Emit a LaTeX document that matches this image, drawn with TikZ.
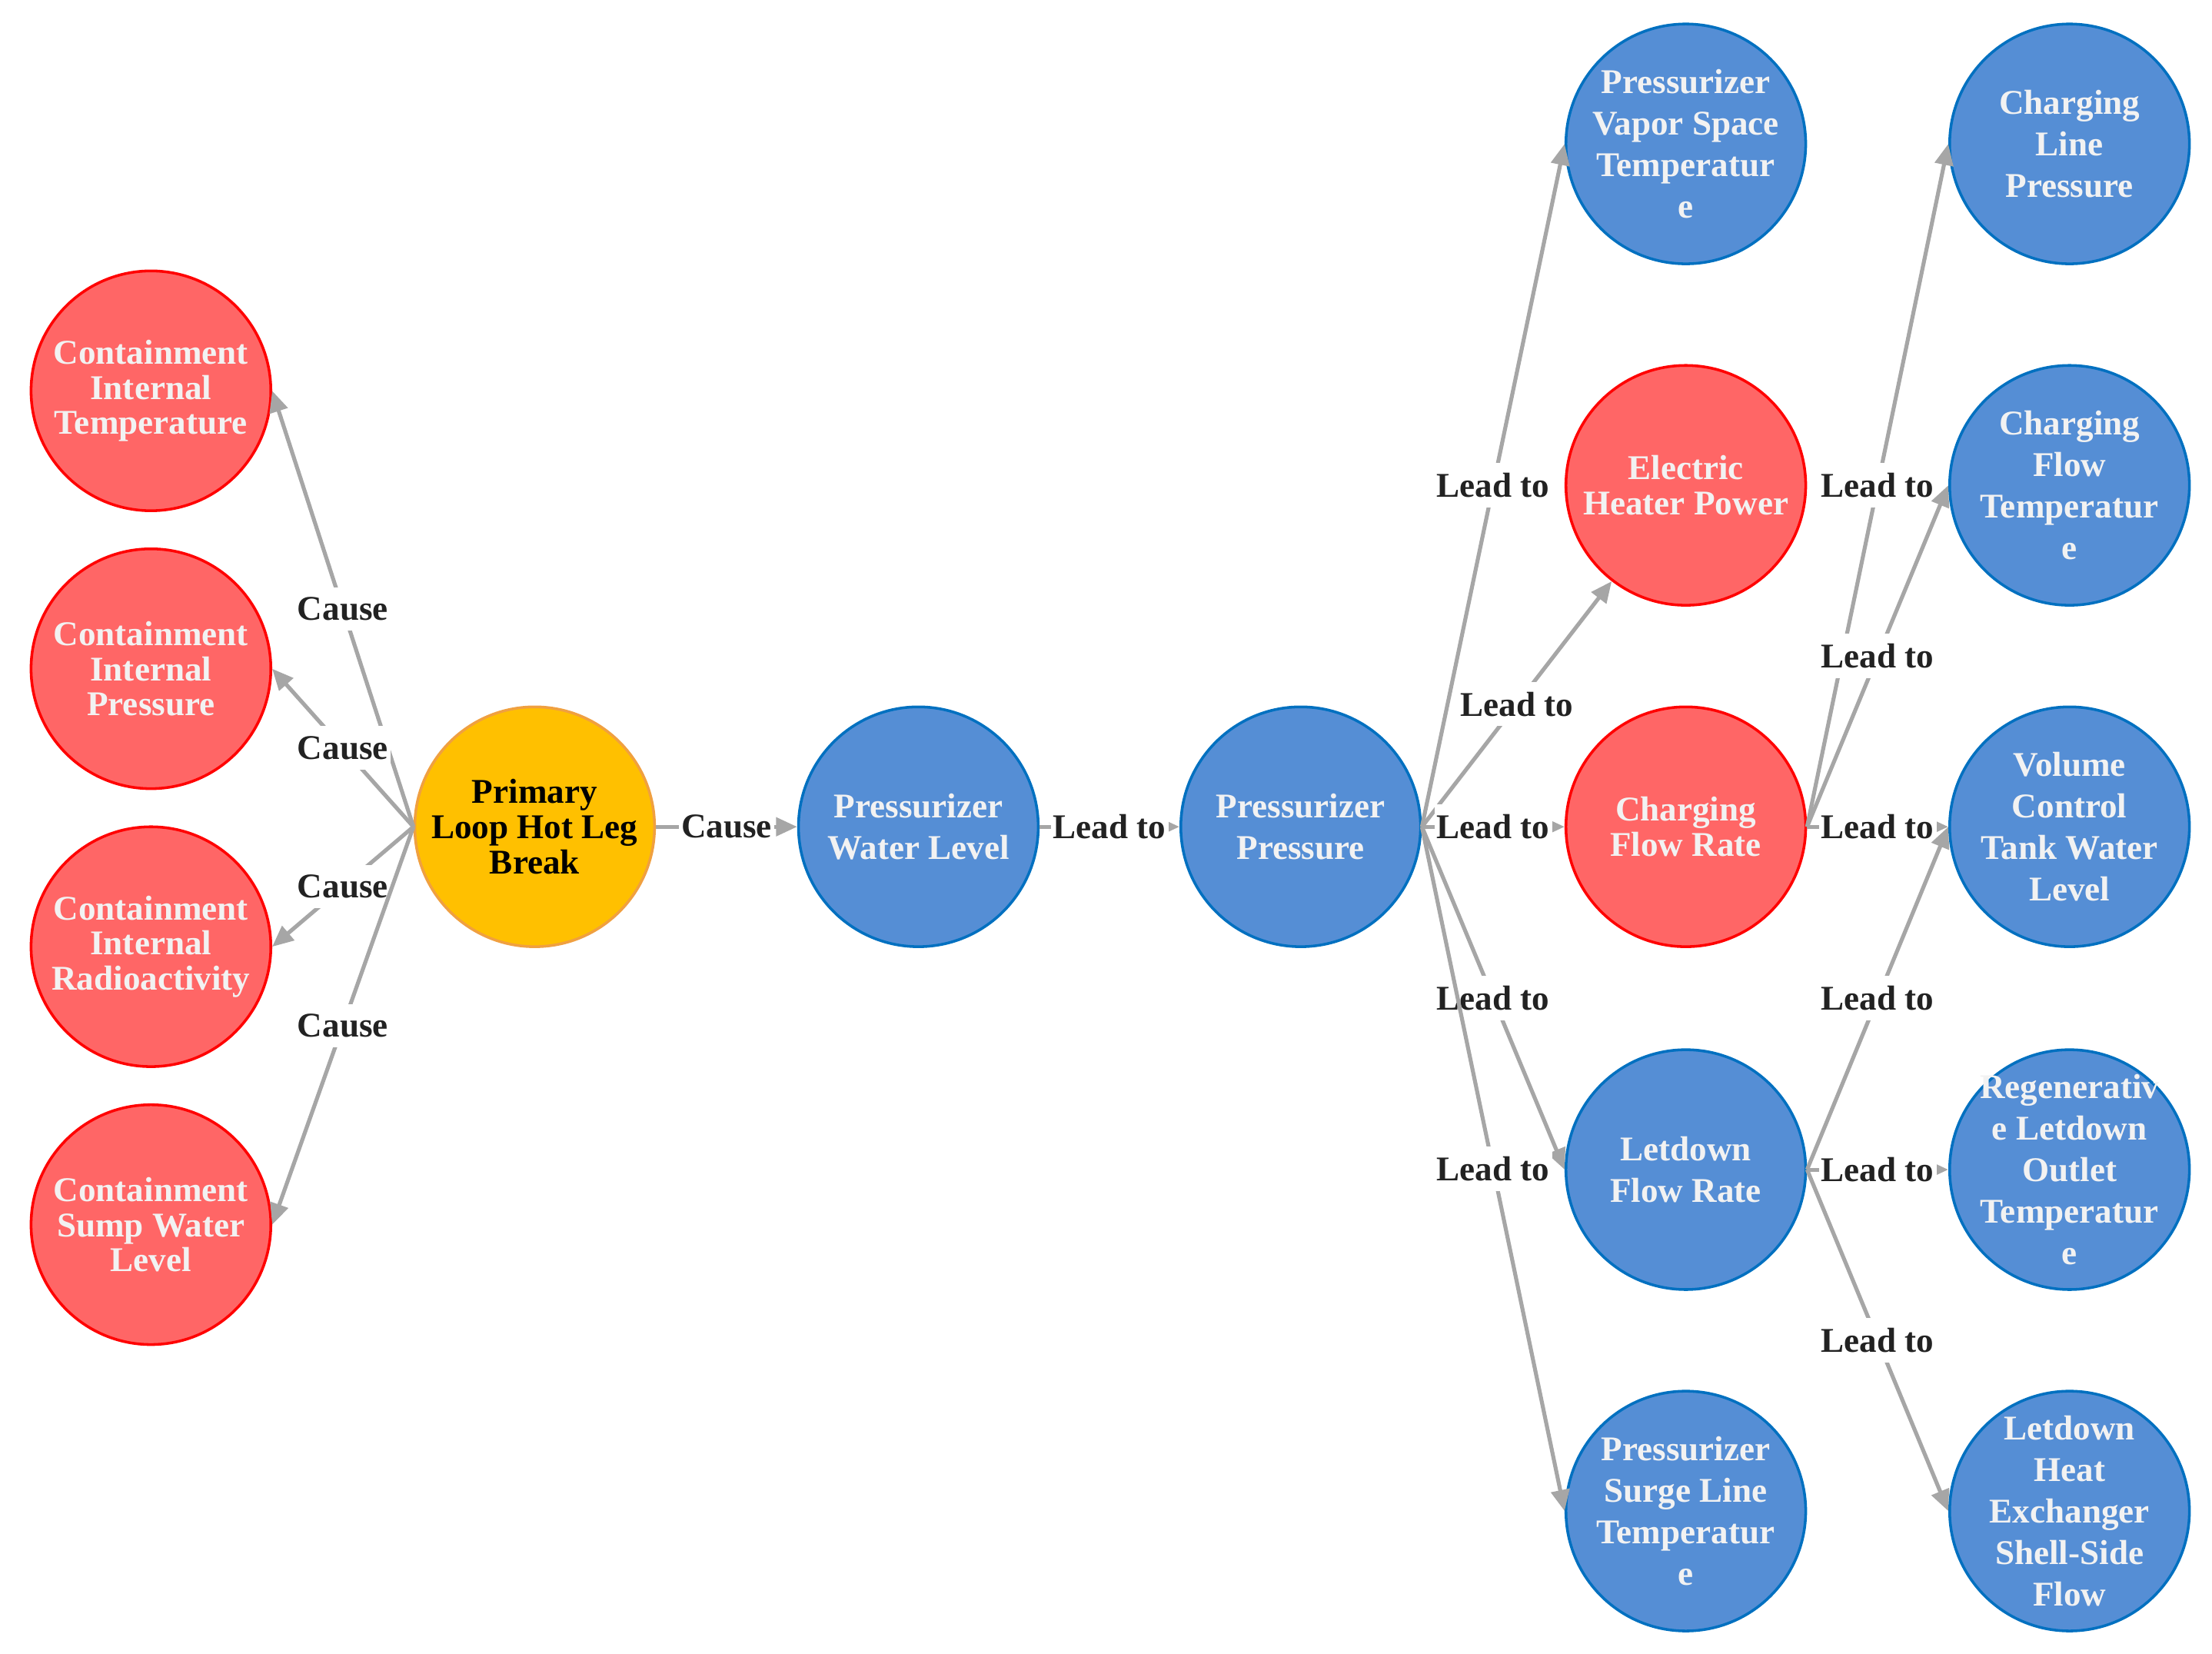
\documentclass[tikz,border=0pt]{standalone}
\usepackage{fontspec}
\setmainfont{LiberationSerif}[Extension=.ttf,UprightFont=*-Regular,BoldFont=*-Bold]
\usepackage{tikz}
\usetikzlibrary{arrows.meta,positioning}
\definecolor{redfill}{HTML}{FF6666}
\definecolor{redline}{HTML}{FF0000}
\definecolor{bluefill}{HTML}{558ED5}
\definecolor{blueline}{HTML}{0070C0}
\definecolor{ambfill}{HTML}{FFC000}
\definecolor{ambline}{HTML}{F0A040}
\definecolor{edgegray}{HTML}{A6A6A6}
\definecolor{labeltext}{HTML}{222222}
\definecolor{nodetext}{HTML}{F2F2F2}

\begin{document}
\begin{tikzpicture}[x=0.02cm,y=-0.02cm,
  state/.style={circle,minimum size=3.4cm,inner sep=0pt,line width=1.1pt,
    align=center,font=\rmfamily\bfseries\fontsize{14}{14.2}\selectfont},
  redstate/.style={state,fill=redfill,draw=redline,text=nodetext},
  bluestate/.style={state,fill=bluefill,draw=blueline,text=nodetext,
    font=\rmfamily\bfseries\fontsize{14}{16.8}\selectfont},
  ambstate/.style={state,fill=ambfill,draw=ambline,text=black},
  crowded/.style={inner sep=-0.35cm},
  edge/.style={draw=edgegray,line width=1.6pt,
    -{Triangle[length=0.3cm,width=0.26cm,fill=edgegray]}},
  lbl/.style={midway,fill=white,text=labeltext,inner xsep=1pt,inner ysep=4pt,
    font=\rmfamily\bfseries\fontsize{14}{14.2}\selectfont}]
  \useasboundingbox (0,0) rectangle (1568,1172);
  % containment side
  \node[redstate] (cit) at (107,277) {Containment\\Internal\\Temperature};
  \node[redstate] (cip) at (107,474) {Containment\\Internal\\Pressure};
  \node[redstate] (cir) at (107,671) {Containment\\Internal\\Radioactivity};
  \node[redstate] (csw) at (107,868) {Containment\\Sump Water\\Level};
  % break and pressurizer chain
  \node[ambstate] (brk) at (379,586) {Primary\\Loop Hot Leg\\Break};
  \node[bluestate] (pwl) at (651,586) {Pressurizer\\Water Level};
  \node[bluestate] (ppr) at (922,586) {Pressurizer\\Pressure};
  % first fan-out
  \node[bluestate] (pvt) at (1195,102) {Pressurizer\\Vapor Space\\Temperatur\\e};
  \node[redstate] (ehp) at (1195,344) {Electric\\Heater Power};
  \node[redstate] (cfr) at (1195,586) {Charging\\Flow Rate};
  \node[bluestate] (lfr) at (1195,829) {Letdown\\Flow Rate};
  \node[bluestate] (pst) at (1195,1071) {Pressurizer\\Surge Line\\Temperatur\\e};
  % second fan-out
  \node[bluestate] (clp) at (1467,102) {Charging\\Line\\Pressure};
  \node[bluestate] (cft) at (1467,344) {Charging\\Flow\\Temperatur\\e};
  \node[bluestate] (vct) at (1467,586) {Volume\\Control\\Tank Water\\Level};
  \node[bluestate,crowded] (rlt) at (1467,829) {Regenerativ\\e Letdown\\Outlet\\Temperatur\\e};
  \node[bluestate,crowded] (lhx) at (1467,1071) {Letdown\\Heat\\Exchanger\\Shell-Side\\Flow};

  \draw[edge] (brk.west) -- node[lbl]{Cause} (cit.east);
  \draw[edge] (brk.west) -- node[lbl]{Cause} (cip.east);
  \draw[edge] (brk.west) -- node[lbl]{Cause} (cir.east);
  \draw[edge] (brk.west) -- node[lbl]{Cause} (csw.east);
  \draw[edge] (brk.east) -- node[lbl]{Cause} (pwl.west);
  \draw[edge] (pwl.east) -- node[lbl]{Lead to} (ppr.west);

  \draw[edge] (ppr.east) -- node[lbl]{Lead to} (pvt.west);
  \draw[edge] (ppr.east) -- node[lbl]{Lead to} (ehp);
  \draw[edge] (ppr.east) -- node[lbl]{Lead to} (cfr.west);
  \draw[edge] (ppr.east) -- node[lbl]{Lead to} (lfr.west);
  \draw[edge] (ppr.east) -- node[lbl]{Lead to} (pst.west);

  \draw[edge] (cfr.east) -- node[lbl]{Lead to} (clp.west);
  \draw[edge] (cfr.east) -- node[lbl]{Lead to} (cft.west);
  \draw[edge] (cfr.east) -- node[lbl]{Lead to} (vct.west);
  \draw[edge] (lfr.east) -- node[lbl]{Lead to} (vct.west);
  \draw[edge] (lfr.east) -- node[lbl]{Lead to} (rlt.west);
  \draw[edge] (lfr.east) -- node[lbl]{Lead to} (lhx.west);
\end{tikzpicture}
\end{document}
